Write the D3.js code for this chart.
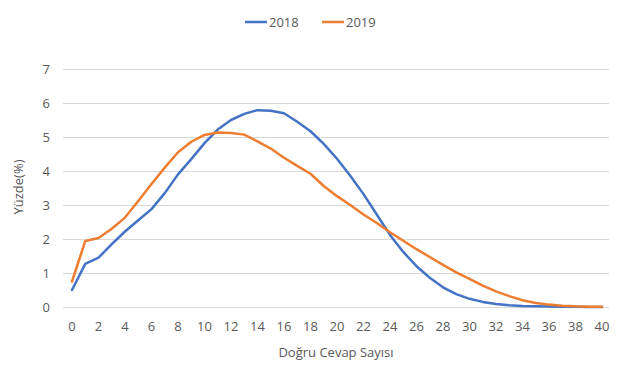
<!DOCTYPE html>
<html><head><meta charset="utf-8">
<script src="https://cdn.jsdelivr.net/npm/d3@7"></script>
<style>body{margin:0;background:#fff}svg{display:block}text{font-family:"Open Sans",sans-serif;fill:#595959}</style>
</head><body>
<svg id="c" width="632" height="367"></svg>
<script>
const categories = d3.range(0, 41);
const xTickLabels = d3.range(0, 41, 2);
const yTicks = [0,1,2,3,4,5,6,7];
const series2018 = [0.5,1.27,1.45,1.85,2.22,2.55,2.88,3.35,3.9,4.35,4.82,5.22,5.5,5.68,5.79,5.77,5.7,5.45,5.17,4.8,4.36,3.86,3.32,2.72,2.12,1.62,1.2,0.86,0.58,0.38,0.24,0.15,0.09,0.05,0.03,0.02,0.012,0.008,0.005,0.003,0.002];
const series2019 = [0.75,1.94,2.03,2.3,2.63,3.12,3.62,4.1,4.55,4.86,5.06,5.13,5.12,5.07,4.87,4.66,4.39,4.15,3.92,3.56,3.26,3.0,2.72,2.47,2.2,1.95,1.7,1.47,1.24,1.02,0.83,0.63,0.46,0.32,0.2,0.12,0.07,0.04,0.02,0.01,0.005];
const seriesNames = ["2018","2019"];
const colors = ["#4472C4","#ED7D31"];

const svg = d3.select("#c");
const x = d3.scalePoint().domain(categories).range([72, 602]);
const y = d3.scaleLinear().domain([0,7]).range([307, 69]);
const gridL = 63, gridR = 609;

// gridlines
svg.append("g").selectAll("line").data(yTicks).join("line")
  .attr("x1", gridL).attr("x2", gridR)
  .attr("y1", d=>y(d)+0.5).attr("y2", d=>y(d)+0.5)
  .attr("stroke", "#d9d9d9").attr("stroke-width", 1);

// y tick labels
svg.append("g").selectAll("text").data(yTicks).join("text")
  .attr("x", 50).attr("y", d=>y(d)).attr("dy","0.35em")
  .attr("text-anchor","end").attr("font-size", 13).text(d=>d);

// x tick labels
svg.append("g").selectAll("text").data(xTickLabels).join("text")
  .attr("x", d=>x(d)).attr("y", 326).attr("dy","0.35em")
  .attr("text-anchor","middle").attr("font-size", 13).text(d=>d);

// axis titles
svg.append("text").attr("x", 336).attr("y", 352).attr("dy","0.35em")
  .attr("text-anchor","middle").attr("font-size", 13).text("Doğru Cevap Sayısı");
svg.append("text").attr("transform","translate(18,187) rotate(-90)").attr("dy","0.35em")
  .attr("text-anchor","middle").attr("font-size", 13).text("Yüzde(%)");

// lines
const line = d3.line().x((d,i)=>x(categories[i])).y(d=>y(d));
[series2018, series2019].forEach((s,i)=>{
  svg.append("path").datum(s).attr("d", line)
    .attr("fill","none").attr("stroke", colors[i]).attr("stroke-width", 2.5)
    .attr("stroke-linejoin","round").attr("stroke-linecap","round");
});

// legend
const leg = [{x:245, name:seriesNames[0], c:colors[0]},{x:322, name:seriesNames[1], c:colors[1]}];
leg.forEach(l=>{
  svg.append("line").attr("x1", l.x).attr("x2", l.x+22).attr("y1", 22).attr("y2", 22)
    .attr("stroke", l.c).attr("stroke-width", 2.5);
  svg.append("text").attr("x", l.x+24).attr("y", 22).attr("dy","0.35em")
    .attr("font-size", 13).text(l.name);
});
</script>
</body></html>
